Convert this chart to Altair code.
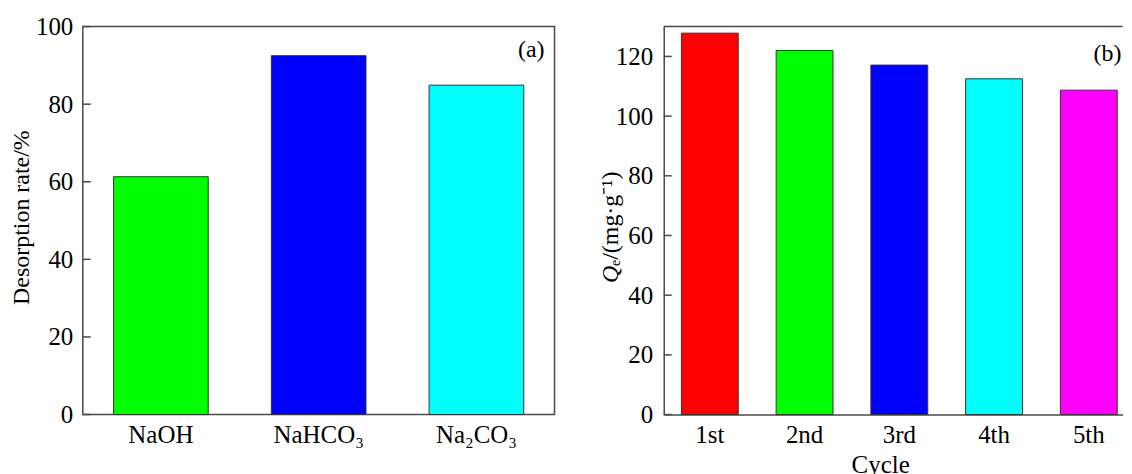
import altair as alt
import pandas as pd

# ---- data ----
reagents = ["NaOH", "NaHCO₃", "Na₂CO₃"]
desorption = [61.3, 92.5, 84.9]
reagent_colors = ["#00FF00", "#0000FF", "#00FFFF"]
ticks_a = [0, 20, 40, 60, 80, 100]

cycles = ["1st", "2nd", "3rd", "4th", "5th"]
qe = [127.8, 122.0, 117.1, 112.5, 108.7]
cycle_colors = ["#FF0000", "#00FF00", "#0000FF", "#00FFFF", "#FF00FF"]
ticks_b = [0, 20, 40, 60, 80, 100, 120]

FONT = "Liberation Serif"
FRAME = "#4a4a4a"
W_A, W_B, H = 473, 460, 389
LFS = 25

df_a = pd.DataFrame({"reagent": reagents, "rate": desorption})
df_b = pd.DataFrame({"cycle": cycles, "qe": qe})
ta = pd.DataFrame({"v": ticks_a})
tb = pd.DataFrame({"v": ticks_b})
one = pd.DataFrame({"k": [0]})

ya = alt.Scale(domain=[0, 100], nice=False)
yb = alt.Scale(domain=[0, 130], nice=False)

# ---- panel (a) ----
bars_a = alt.Chart(df_a).mark_bar(stroke="#333333", strokeWidth=1).encode(
    x=alt.X("reagent:N", sort=reagents,
            scale=alt.Scale(paddingInner=0.4, paddingOuter=0.195),
            axis=alt.Axis(title=None, labelAngle=0, labelFont=FONT, labelFontSize=LFS,
                          labelColor="black", labelPadding=8, ticks=False, tickSize=0,
                          domain=False)),
    y=alt.Y("rate:Q", scale=ya,
            axis=alt.Axis(values=ticks_a, ticks=False, tickSize=0, grid=False, domain=False,
                          labelFont=FONT, labelFontSize=LFS, labelPadding=10, labelColor="black",
                          title="Desorption rate/%", titleFont=FONT, titleFontSize=24,
                          titleFontWeight="normal", titleColor="black",
                          titleX=-54, titleY=191, titleAngle=270, titleAlign="center",
                          titleBaseline="alphabetic")),
    color=alt.Color("reagent:N", scale=alt.Scale(domain=reagents, range=reagent_colors), legend=None),
)
tick_a = alt.Chart(ta).mark_rule(color=FRAME, strokeWidth=1.5).encode(
    y=alt.Y("v:Q", scale=ya), x=alt.value(0), x2=alt.value(8))
lab_a = alt.Chart(one).mark_text(text="(a)", font=FONT, fontSize=24, align="right",
                                 baseline="alphabetic", color="black").encode(
    x=alt.value(W_A - 10), y=alt.value(30))
panel_a = alt.layer(bars_a, tick_a, lab_a).properties(
    width=W_A, height=H, view=alt.ViewBackground(stroke=FRAME, strokeWidth=1.5))

# ---- panel (b) ----
bars_b = alt.Chart(df_b).mark_bar(stroke="#333333", strokeWidth=1).encode(
    x=alt.X("cycle:N", sort=cycles,
            scale=alt.Scale(paddingInner=0.4, paddingOuter=0.121, align=0.77),
            axis=alt.Axis(title="Cycle", titleX=217, titleFont=FONT, titleFontSize=25,
                          titleFontWeight="normal", titleColor="black", titlePadding=5,
                          labelAngle=0, labelFont=FONT, labelFontSize=LFS,
                          labelColor="black", labelPadding=8, ticks=False, tickSize=0,
                          domain=True, domainColor=FRAME, domainWidth=1.5)),
    y=alt.Y("qe:Q", scale=yb,
            axis=alt.Axis(values=ticks_b, ticks=False, tickSize=0, grid=False, domain=True,
                          domainColor=FRAME, domainWidth=1.5, title=None,
                          labelFont=FONT, labelFontSize=LFS, labelPadding=11, labelColor="black")),
    color=alt.Color("cycle:N", scale=alt.Scale(domain=cycles, range=cycle_colors), legend=None),
)
tick_b = alt.Chart(tb).mark_rule(color=FRAME, strokeWidth=1.5).encode(
    y=alt.Y("v:Q", scale=yb), x=alt.value(0), x2=alt.value(8))
top_b = alt.Chart(one).mark_rule(color=FRAME, strokeWidth=1.5).encode(
    y=alt.value(0), x=alt.value(0), x2=alt.value(W_B))
lab_b = alt.Chart(one).mark_text(text="(b)", font=FONT, fontSize=24, align="right",
                                 baseline="alphabetic", color="black").encode(
    x=alt.value(W_B - 1), y=alt.value(35))
q1 = alt.Chart(one).mark_text(text="Q", font=FONT, fontSize=24, fontStyle="italic",
                              angle=270, align="left", baseline="alphabetic", color="black").encode(
    x=alt.value(-46), y=alt.value(257))
q2 = alt.Chart(one).mark_text(text="ₑ/(mg·g⁻¹)", font=FONT, fontSize=24,
                              angle=270, align="left", baseline="alphabetic", color="black").encode(
    x=alt.value(-46), y=alt.value(240))
panel_b = alt.layer(bars_b, tick_b, top_b, lab_b, q1, q2).properties(
    width=W_B, height=H, view=alt.ViewBackground(stroke="transparent"))

chart = alt.hconcat(panel_a, panel_b, spacing=42.5).resolve_scale(
    color="independent"
).properties(
    padding={"left": 1, "top": 5, "right": 0, "bottom": 0}
).configure(background="white")

chart.save("out.html", embed_options={"renderer": "svg", "actions": False})
